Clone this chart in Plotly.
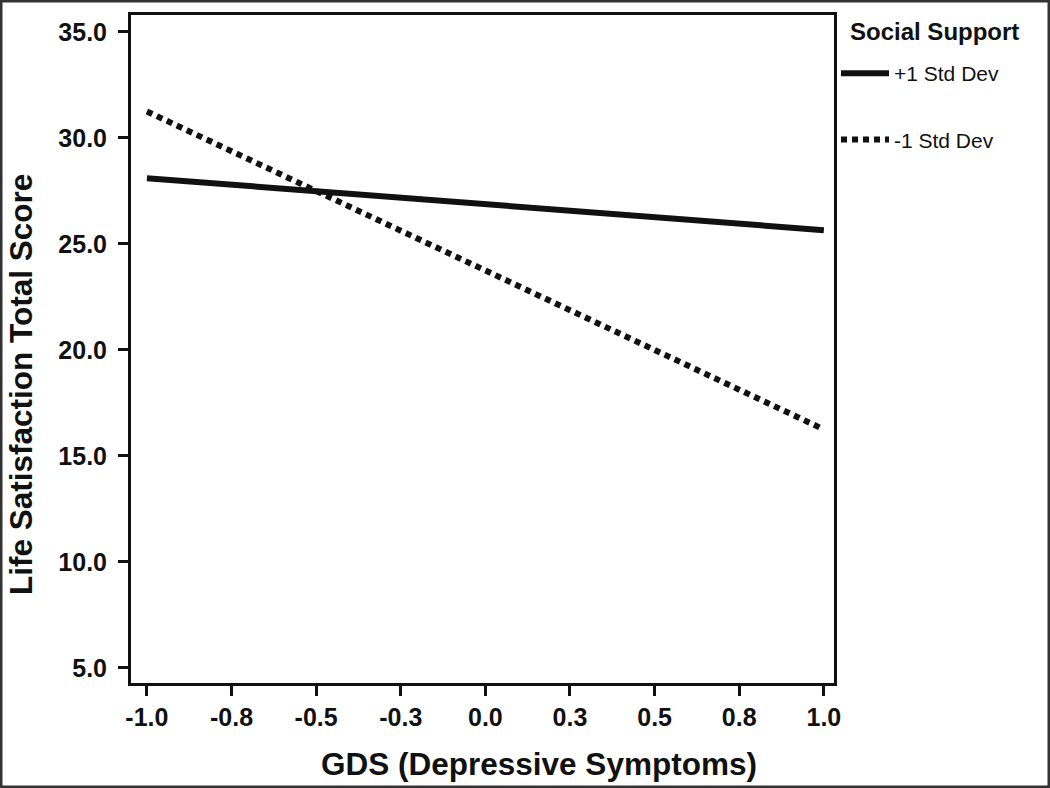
import plotly.graph_objects as go

# data
gds = [-1.0, 1.0]
high_support = [28.1, 25.65]
low_support = [31.25, 16.25]

x_tickvals = [-1.0, -0.75, -0.5, -0.25, 0.0, 0.25, 0.5, 0.75, 1.0]
x_ticktext = ['-1.0', '-0.8', '-0.5', '-0.3', '0.0', '0.3', '0.5', '0.8', '1.0']
y_tickvals = [5, 10, 15, 20, 25, 30, 35]
y_ticktext = ['5.0', '10.0', '15.0', '20.0', '25.0', '30.0', '35.0']

FONT = 'Liberation Sans, Arial, sans-serif'
INK = '#111111'

W, H = 1050, 788
ML, MR, MT, MB = 131, 216, 15, 105
PW, PH = W - ML - MR, H - MT - MB


def px_x(p):
    return (p - ML) / PW


def px_y(p):
    return (H - MB - p) / PH


fig = go.Figure()

fig.add_trace(go.Scatter(
    x=gds, y=high_support, mode='lines', name='+1 Std Dev',
    legendgroup='a',
    line={'color': INK, 'width': 6},
))
fig.add_trace(go.Scatter(
    x=gds, y=low_support, mode='lines', name='-1 Std Dev',
    legendgroup='b',
    line={'color': INK, 'width': 6, 'dash': '6px,5px'},
))

axis_common = dict(
    showline=True, linecolor=INK, linewidth=3, mirror=True,
    ticks='outside', ticklen=10, tickwidth=3, tickcolor=INK,
    showgrid=False, zeroline=False,
    tickfont={'family': FONT, 'size': 25, 'color': INK, 'weight': 'bold'},
)

fig.update_xaxes(
    range=[-1.047, 1.030], tickmode='array',
    tickvals=x_tickvals, ticktext=x_ticktext, **axis_common,
)
fig.update_yaxes(
    range=[4.29, 35.8], tickmode='array',
    tickvals=y_tickvals, ticktext=y_ticktext,
    ticklabelstandoff=6, **axis_common,
)

fig.update_layout(
    width=W, height=H,
    margin={'l': ML, 'r': MR, 't': MT, 'b': MB, 'pad': 0},
    paper_bgcolor='white', plot_bgcolor='white',
    font={'family': FONT, 'color': INK},
    legend={
        'x': px_x(836), 'y': px_y(53), 'xanchor': 'left', 'yanchor': 'top',
        'font': {'family': FONT, 'size': 21, 'color': INK},
        'tracegroupgap': 36, 'itemwidth': 48,
        'bgcolor': 'rgba(0,0,0,0)',
    },
    annotations=[
        dict(text='<b>Social Support</b>', xref='paper', yref='paper',
             x=px_x(848), y=px_y(32), showarrow=False,
             xanchor='left', yanchor='middle',
             font={'family': FONT, 'size': 24, 'color': INK}),
        dict(text='<b>GDS (Depressive Symptoms)</b>', xref='paper', yref='paper',
             x=px_x(539), y=px_y(764), showarrow=False,
             xanchor='center', yanchor='middle',
             font={'family': FONT, 'size': 31.5, 'color': INK}),
        dict(text='<b>Life Satisfaction Total Score</b>', xref='paper', yref='paper',
             x=px_x(21), y=px_y(385), showarrow=False, textangle=-90,
             xanchor='center', yanchor='middle',
             font={'family': FONT, 'size': 31.5, 'color': INK}),
    ],
    shapes=[
        dict(type='rect', xref='paper', yref='paper',
             x0=px_x(0), x1=px_x(W), y0=px_y(H), y1=px_y(0),
             line={'color': '#333333', 'width': 5}, layer='above'),
    ],
)

fig.write_html(
    'out.html',
    config={'displayModeBar': False},
    post_script="document.body.style.margin='0px';",
)
